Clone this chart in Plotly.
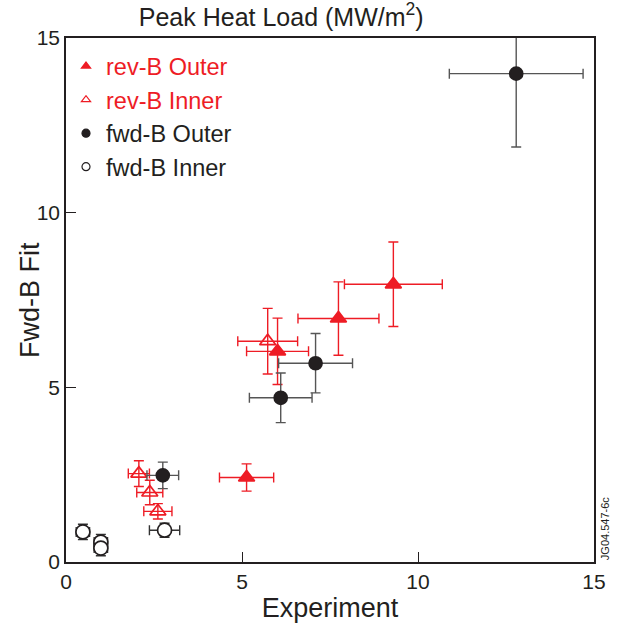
import plotly.graph_objects as go

# rev-B Outer (filled red triangles)
rbo_x = [9.30, 7.74, 6.01, 5.13]
rbo_y = [7.95, 6.97, 6.03, 2.42]
rbo_xe = [1.39, 1.15, 0.88, 0.77]
rbo_ye = [1.21, 1.05, 0.95, 0.39]

# rev-B Inner (open red triangles)
rbi_x = [5.73, 2.07, 2.38, 2.61]
rbi_y = [6.32, 2.53, 1.99, 1.45]
rbi_xe = [0.85, 0.30, 0.37, 0.40]
rbi_ye = [0.94, 0.37, 0.35, 0.22]

# fwd-B Outer (filled black circles)
fbo_x = [12.79, 7.09, 6.10, 2.75]
fbo_y = [13.98, 5.69, 4.70, 2.48]
fbo_xe = [1.90, 1.05, 0.89, 0.45]
fbo_ye = [2.10, 0.85, 0.71, 0.38]

# fwd-B Inner (open black circles)
fbi_x = [0.48, 0.99, 0.99, 2.80]
fbi_y = [0.86, 0.57, 0.40, 0.91]
fbi_xe = [0.19, 0.19, 0.19, 0.43]
fbi_ye = [0.22, 0.22, 0.22, 0.20]

names = ["rev-B Outer", "rev-B Inner", "fwd-B Outer", "fwd-B Inner"]

RED = "#ee1c25"
BLK = "#231f20"
FONT = "Liberation Sans, Arial, sans-serif"

# (x, y, xerr, yerr, symbol, fill, line, errcolor, size)
series = [
    (rbo_x, rbo_y, rbo_xe, rbo_ye, "triangle-up", RED, RED, RED, 14),
    (rbi_x, rbi_y, rbi_xe, rbi_ye, "triangle-up-open", RED, RED, RED, 14),
    (fbo_x, fbo_y, fbo_xe, fbo_ye, "circle", BLK, BLK, "#555555", 13),
    (fbi_x, fbi_y, fbi_xe, fbi_ye, "circle", "white", BLK, "#333333", 14),
]
leg_colors = [RED, RED, BLK, BLK]

fig = go.Figure()
for (x, y, xe, ye, sym, fill, lc, ecol, sz), nm in zip(series, names):
    fig.add_trace(go.Scatter(
        x=x, y=y, mode="markers", name=nm, showlegend=False,
        marker=dict(symbol=sym, size=sz, color=fill, line=dict(color=lc, width=1.7)),
        error_x=dict(type="data", array=xe, color=ecol, thickness=1.4, width=5),
        error_y=dict(type="data", array=ye, color=ecol, thickness=1.4, width=5),
    ))

# legend entries (small markers, coloured text, as in the original)
for (x, y, xe, ye, sym, fill, lc, ecol, sz), nm, tc in zip(series, names, leg_colors):
    fig.add_trace(go.Scatter(
        x=[None], y=[None], mode="markers",
        name=f"<span style='color:{tc}'>{nm}</span>",
        marker=dict(symbol=sym, size=8, color=fill, line=dict(color=lc, width=1.2)),
    ))

fig.update_layout(
    width=618, height=630,
    margin=dict(l=66, r=23, t=38, b=65),
    paper_bgcolor="white", plot_bgcolor="white",
    font=dict(family=FONT, color=BLK),
    title=dict(text="Peak Heat Load (MW/m<sup>2</sup>)", x=0.455, xanchor="center",
               y=0.973, yanchor="middle", font=dict(size=25, color=BLK)),
    legend=dict(x=0.0, y=0.988, xanchor="left", yanchor="top",
                bgcolor="rgba(0,0,0,0)", font=dict(size=23.5),
                tracegroupgap=0, itemwidth=30),
    showlegend=True,
)
fig.update_xaxes(range=[0, 15], dtick=5, tick0=0, ticks="inside", ticklen=10,
                 showgrid=False, zeroline=False, showline=True, mirror=True,
                 linecolor=BLK, linewidth=1.5, tickcolor=BLK, tickwidth=1.2,
                 tickfont=dict(size=21, color=BLK),
                 title=dict(text="Experiment", font=dict(size=27, color=BLK), standoff=6))
fig.update_yaxes(range=[0, 15], dtick=5, tick0=0, ticks="inside", ticklen=10,
                 showgrid=False, zeroline=False, showline=True, mirror=True,
                 linecolor=BLK, linewidth=1.5, tickcolor=BLK, tickwidth=1.2,
                 tickfont=dict(size=21, color=BLK))

fig.add_annotation(text="Fwd-B Fit", xref="paper", yref="paper", x=-0.068, y=0.5,
                   xanchor="center", yanchor="middle", textangle=-90, showarrow=False,
                   font=dict(size=27, color=BLK))

fig.add_annotation(text="JG04.547-6c", xref="paper", yref="paper", x=1.005, y=0.0,
                   xanchor="left", yanchor="bottom", textangle=-90, showarrow=False,
                   font=dict(size=11, color=BLK))

fig.write_html("out.html")
